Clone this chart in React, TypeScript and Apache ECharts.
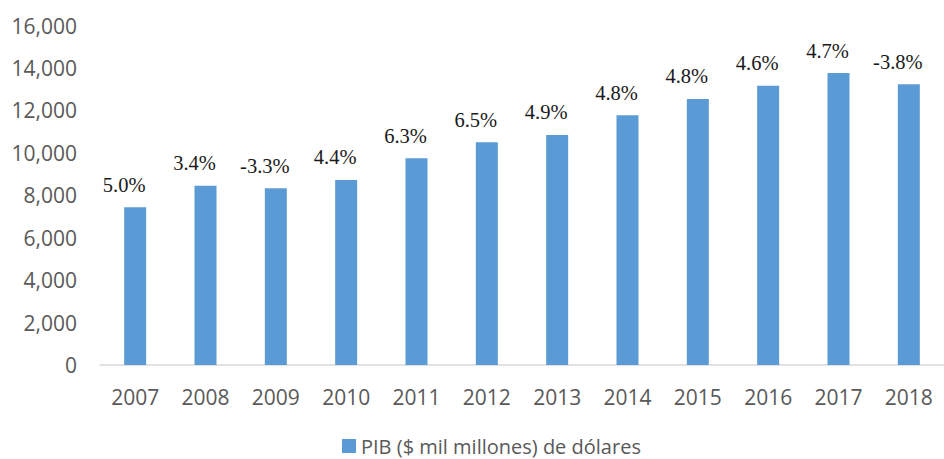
import React, { useEffect, useRef } from "react";
import * as echarts from "echarts";

const years = ["2007", "2008", "2009", "2010", "2011", "2012", "2013", "2014", "2015", "2016", "2017", "2018"];
const gdp = [7430, 8450, 8330, 8720, 9740, 10500, 10840, 11770, 12540, 13160, 13760, 13230];
const growth = ["5.0%", "3.4%", "-3.3%", "4.4%", "6.3%", "6.5%", "4.9%", "4.8%", "4.8%", "4.6%", "4.7%", "-3.8%"];
const seriesName = "PIB ($ mil millones) de dólares";

export default function App() {
  const ref = useRef<HTMLDivElement>(null);
  useEffect(() => {
    if (!ref.current) return;
    const chart = echarts.init(ref.current, undefined, { renderer: "svg" });
    chart.setOption({
      animation: false,
      grid: { left: 100, right: -11, top: 25.5, bottom: 94, containLabel: false },
      legend: {
        data: [seriesName],
        left: 337,
        top: 431,
        icon: "rect",
        itemWidth: 14,
        itemHeight: 14,
        itemGap: 6,
        textStyle: { fontFamily: "Open Sans", fontSize: 20, color: "#595959" },
      },
      xAxis: {
        type: "category",
        data: years,
        axisLine: { show: true, lineStyle: { color: "#d9d9d9", width: 1.5 } },
        axisTick: { show: false },
        axisLabel: { fontFamily: "Open Sans", fontSize: 21, color: "#595959", margin: 21 },
      },
      yAxis: {
        type: "value",
        min: 0,
        max: 16000,
        interval: 2000,
        axisLine: { show: false },
        axisTick: { show: false },
        splitLine: { show: false },
        axisLabel: {
          fontFamily: "Open Sans",
          fontSize: 21,
          color: "#595959",
          margin: 23,
          formatter: (v: number) => v.toLocaleString("en-US"),
        },
      },
      series: [
        {
          name: seriesName,
          type: "bar",
          data: gdp,
          barWidth: 22,
          itemStyle: { color: "#5B9BD5" },
          label: {
            show: true,
            position: "top",
            distance: 12,
            offset: [-11, 0],
            fontFamily: "Liberation Serif",
            fontSize: 20.5,
            color: "#1a1a1a",
            formatter: (p: any) => growth[p.dataIndex],
          },
        },
      ],
    });
    return () => chart.dispose();
  }, []);
  return (
    <div
      ref={ref}
      style={{ position: "fixed", left: 0, top: 0, width: 944, height: 459, background: "#fff" }}
    />
  );
}
